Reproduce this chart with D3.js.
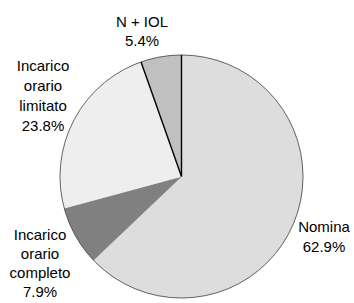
<!DOCTYPE html>
<html>
<head>
<meta charset="utf-8">
<script src="https://cdn.jsdelivr.net/npm/d3@7"></script>
<style>
  body { margin: 0; background: #fff; }
  svg text { font-family: "Liberation Sans", Arial, sans-serif; font-size: 15px; fill: #000; }
</style>
</head>
<body>
<svg id="chart" width="354" height="303"></svg>
<script>
// shares of each category, clockwise from 12 o'clock
var categories = ["Nomina", "Incarico orario completo", "Incarico orario limitato", "N + IOL"];
var values = [62.9, 7.9, 23.8, 5.4];
var labelLines = [["Nomina", "62.9%"], ["Incarico", "orario", "completo", "7.9%"],
                  ["Incarico", "orario", "limitato", "23.8%"], ["N + IOL", "5.4%"]];
var fills = ["#dddddd", "#808080", "#eeeeee", "#c0c0c0"];

var svg = d3.select("#chart");
var cx = 181.5, cy = 176.5, radius = 121.5;

var pie = d3.pie().sort(null).value(function (d) { return d; });
var arcs = pie(values);
var arc = d3.arc().innerRadius(0).outerRadius(radius);

var g = svg.append("g").attr("transform", "translate(" + cx + "," + cy + ")");

g.selectAll("path.slice")
    .data(arcs)
    .enter().append("path")
    .attr("class", "slice")
    .attr("d", arc)
    .attr("fill", function (d, i) { return fills[i]; })
    .attr("stroke", function (d, i) { return fills[i]; })
    .attr("stroke-width", 0.5);

// outer rim
g.append("circle")
    .attr("r", radius)
    .attr("fill", "none")
    .attr("stroke", "#555")
    .attr("stroke-width", 0.9);

// the black edges around the small top slice
var last = arcs[arcs.length - 1];
[last.startAngle, last.endAngle].forEach(function (a) {
    var p = d3.pointRadial(a, radius);
    g.append("line")
        .attr("x1", 0).attr("y1", 0)
        .attr("x2", p[0]).attr("y2", p[1])
        .attr("stroke", "#000")
        .attr("stroke-width", 1.4);
});

// labels: first baseline and line step for each category
var labelPos = [[324, 232, 20], [40, 240, 19], [43, 71, 20], [142, 26.5, 19.5]];

labelLines.forEach(function (lines, i) {
    var p = labelPos[i];
    var t = svg.append("text")
        .attr("text-anchor", "middle")
        .attr("x", p[0])
        .attr("y", p[1]);
    lines.forEach(function (s, j) {
        t.append("tspan")
            .attr("x", p[0])
            .attr("y", p[1] + j * p[2])
            .text(s);
    });
});
</script>
</body>
</html>
